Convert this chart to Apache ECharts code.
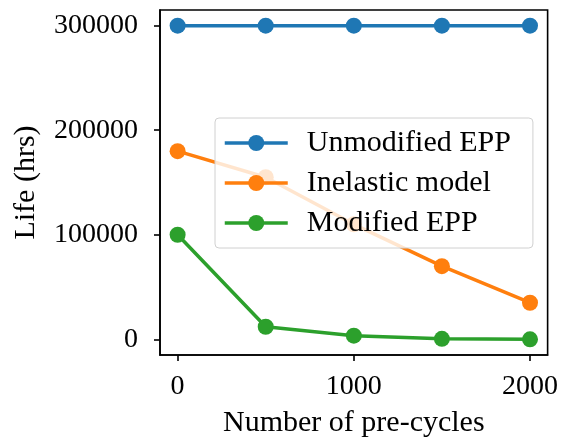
<!DOCTYPE html>
<html>
<head>
<meta charset="utf-8">
<script src="https://cdn.jsdelivr.net/npm/echarts@6/dist/echarts.min.js"></script>
<style>
  html, body { margin: 0; padding: 0; background: #fff; }
  #chart { width: 561px; height: 443px; }
</style>
</head>
<body>
<div id="chart"></div>
<script>
// Pre-cycle counts on the x axis
const preCycles = [0, 500, 1000, 1500, 2000];
// Predicted life (hours) for each model
const unmodifiedEPP = [300000, 300000, 300000, 300000, 300000];
const inelasticModel = [180000, 155000, 110000, 70000, 35000];
const modifiedEPP = [100000, 12000, 3500, 500, 0];
// Tick positions
const xTicks = [0, 1000, 2000];
const yTicks = [0, 100000, 200000, 300000];

const FONT = 'Liberation Serif';
const colors = ['#1f77b4', '#ff7f0e', '#2ca02c'];

function pairs(ys) { return preCycles.map((x, i) => [x, ys[i]]); }

function lineSeries(name, ys, color) {
  return {
    name: name,
    type: 'line',
    z: 2,
    data: pairs(ys),
    symbol: 'circle',
    symbolSize: 16,
    lineStyle: { color: color, width: 3.5 },
    itemStyle: { color: color },
    emphasis: { disabled: true },
    animation: false
  };
}

const plain = v => String(v);

const chart = echarts.init(document.getElementById('chart'));
chart.setOption({
  animation: false,
  color: colors,
  textStyle: { fontFamily: FONT },
  grid: {
    left: 160, right: 13, top: 10, bottom: 86,
    show: true, borderColor: '#000', borderWidth: 1.6,
    backgroundColor: 'transparent'
  },
  legend: {
    orient: 'vertical',
    zlevel: 1,
    z: 10,
    left: 215, top: 118,
    padding: [10, 22, 10, 8],
    itemGap: 10,
    itemWidth: 63,
    itemHeight: 20,
    lineStyle: { width: 3.5 },
    backgroundColor: 'rgba(255,255,255,0.8)',
    borderColor: '#d0d0d0',
    borderWidth: 1,
    borderRadius: 4,
    textStyle: { fontFamily: FONT, fontSize: 30, color: '#000', padding: [0, 0, 0, 14] },
    data: ['Unmodified EPP', 'Inelastic model', 'Modified EPP']
  },
  xAxis: {
    type: 'value',
    min: -100, max: 2100,
    name: 'Number of pre-cycles',
    nameLocation: 'middle',
    nameGap: 53,
    nameTextStyle: { fontFamily: FONT, fontSize: 30, color: '#000' },
    axisLine: { show: true, onZero: false, lineStyle: { color: '#000', width: 1.6 } },
    axisTick: { show: true, length: 6, inside: false, customValues: xTicks, lineStyle: { color: '#000', width: 1.6 } },
    axisLabel: { customValues: xTicks, margin: 18, formatter: plain, fontFamily: FONT, fontSize: 28, color: '#000' },
    splitLine: { show: false }
  },
  yAxis: {
    type: 'value',
    min: -15000, max: 315000,
    name: 'Life (hrs)',
    nameLocation: 'middle',
    nameGap: 119,
    nameTextStyle: { fontFamily: FONT, fontSize: 30, color: '#000' },
    axisLine: { show: true, onZero: false, lineStyle: { color: '#000', width: 1.6 } },
    axisTick: { show: true, length: 6, inside: false, customValues: yTicks, lineStyle: { color: '#000', width: 1.6 } },
    axisLabel: { customValues: yTicks, margin: 22, formatter: plain, fontFamily: FONT, fontSize: 28, color: '#000' },
    splitLine: { show: false }
  },
  series: [
    lineSeries('Unmodified EPP', unmodifiedEPP, colors[0]),
    lineSeries('Inelastic model', inelasticModel, colors[1]),
    lineSeries('Modified EPP', modifiedEPP, colors[2])
  ]
});
</script>
</body>
</html>
